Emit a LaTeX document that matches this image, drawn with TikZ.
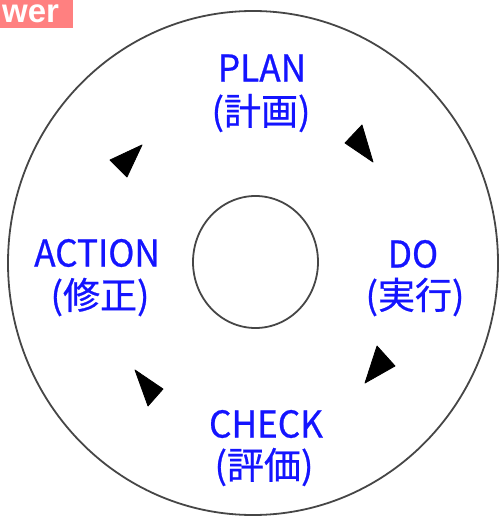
\documentclass[tikz,border=0pt]{standalone}
\usepackage{fontspec}
\newfontfamily\jpfont[FakeBold=0.7]{Noto Sans CJK JP}
\newfontfamily\badgefont{Liberation Sans}
\definecolor{lblblue}{RGB}{20,20,255}
\definecolor{ringgray}{RGB}{70,70,70}
\definecolor{badgepink}{RGB}{255,128,128}
\begin{document}
\begin{tikzpicture}[x=1pt,y=-1pt,
  lat/.style={text=lblblue,inner sep=0pt,font=\jpfont\fontsize{37}{37}\selectfont,xscale=0.95},
  jp/.style={text=lblblue,inner sep=0pt,font=\jpfont\fontsize{37}{37}\selectfont},
  tri/.style={fill=black,draw=black,line width=0.8pt,line join=round}]
\useasboundingbox (0,0) rectangle (500,518);
% badge
\fill[badgepink] (0,0) rectangle (73,28);
\node[anchor=base west,inner sep=0pt,text height=18pt,text depth=0pt,text=white,font=\badgefont\bfseries\fontsize{33}{33}\selectfont] (badge) at (2,23) {wer};
% rings
\draw[ringgray,line width=1.8pt] (253,263) ellipse [x radius=245,y radius=252];
\draw[ringgray,line width=1.8pt] (255.5,262) ellipse [x radius=62.5,y radius=66];
% labels
\node[lat] (plan) at (262,68) {PLAN};
\node[jp] (planj) at (261,113) {(計画)};
\node[lat] (action) at (97,253) {ACTION};
\node[jp] (actionj) at (100,297) {(修正)};
\node[lat] (do) at (413,254) {DO};
\node[jp] (doj) at (415,297) {(実行)};
\node[lat] (check) at (266,424) {CHECK};
\node[jp] (checkj) at (264,467) {(評価)};
% arrowheads
\draw[tri] (110,160) -- (142,145) -- (127,177) -- cycle;
\draw[tri] (362,125) -- (345,143) -- (373,162) -- cycle;
\draw[tri] (377,346) -- (395,366) -- (365,383) -- cycle;
\draw[tri] (135,370) -- (163,389) -- (148,406) -- cycle;
\end{tikzpicture}
\end{document}
